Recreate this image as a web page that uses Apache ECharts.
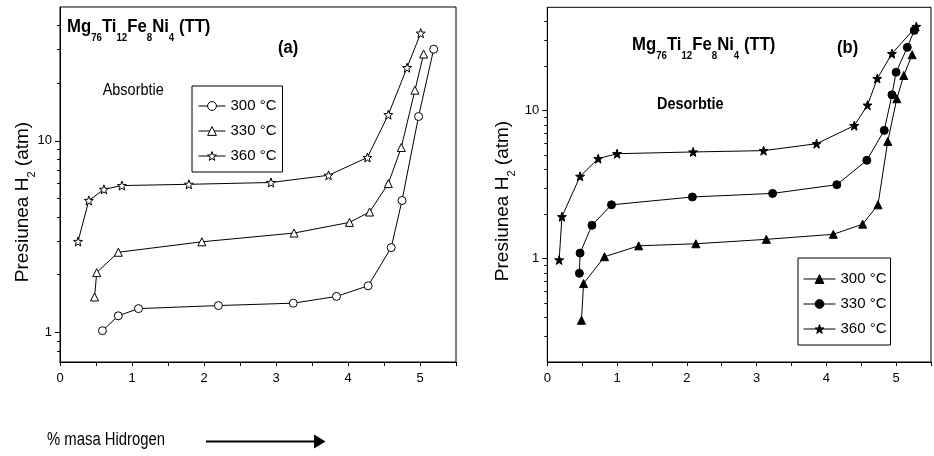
<!DOCTYPE html>
<html>
<head>
<meta charset="utf-8">
<script src="https://cdn.jsdelivr.net/npm/echarts@6/dist/echarts.min.js"></script>
<style>
  html, body { margin: 0; padding: 0; background: #fff; }
  #chart { width: 934px; height: 456px; }
</style>
</head>
<body>
<div id="chart"></div>
<script>
// Hydrogen pressure-composition isotherms of Mg76Ti12Fe8Ni4 (TT)
// (a) absorption, (b) desorption; x = wt.% H, y = H2 pressure (atm, log scale)

// --- Absorbtie (a) ---
const absX300 = [0.59, 0.81, 1.09, 2.20, 3.24, 3.84, 4.28, 4.60, 4.75, 4.98, 5.19];
const absP300 = [1.02, 1.22, 1.33, 1.38, 1.42, 1.54, 1.75, 2.77, 4.88, 13.4, 30.1];

const absX330 = [0.48, 0.51, 0.81, 1.97, 3.25, 4.02, 4.30, 4.56, 4.74, 4.93, 5.05];
const absP330 = [1.53, 2.05, 2.62, 2.97, 3.30, 3.75, 4.25, 5.98, 9.23, 18.4, 28.4];

const absX360 = [0.25, 0.40, 0.61, 0.86, 1.79, 2.93, 3.73, 4.27, 4.56, 4.82, 5.01];
const absP360 = [2.98, 4.88, 5.58, 5.84, 5.93, 6.06, 6.61, 8.19, 13.7, 24.1, 36.5];

// --- Desorbtie (b) ---
const desX300 = [0.49, 0.52, 0.82, 1.31, 2.13, 3.14, 4.10, 4.52, 4.74, 4.88, 5.01, 5.11, 5.23];
const desP300 = [0.383, 0.678, 1.03, 1.22, 1.26, 1.35, 1.46, 1.71, 2.31, 6.2, 12.05, 17.3, 23.9];

const desX330 = [0.46, 0.47, 0.64, 0.92, 2.08, 3.23, 4.15, 4.58, 4.83, 4.94, 5.00, 5.16, 5.26];
const desP330 = [0.796, 1.09, 1.68, 2.31, 2.61, 2.76, 3.16, 4.62, 7.36, 12.8, 18.2, 26.8, 34.9];

const desX360 = [0.17, 0.21, 0.47, 0.73, 1.00, 2.09, 3.10, 3.86, 4.40, 4.59, 4.73, 4.94, 5.29];
const desP360 = [0.98, 1.92, 3.60, 4.74, 5.12, 5.26, 5.37, 5.98, 7.92, 10.9, 16.5, 24.3, 37.1];

// Legend labels
const tempLabels = ['300 °C', '330 °C', '360 °C'];

// Axis ticks
const xTicksLabelled = [0, 1, 2, 3, 4, 5];
const yMajorTicks = [1, 10];
const yMinorTicksA = [0.8, 0.9, 2, 3, 4, 5, 6, 7, 8, 9, 20, 30, 40];
const yMinorTicksB = [0.3, 0.4, 0.5, 0.6, 0.7, 0.8, 0.9, 2, 3, 4, 5, 6, 7, 8, 9, 20, 30, 40];

const FONT = '"Liberation Sans", Arial, sans-serif';
const STAR = 'path://M0,-10L2.35,-3.24L9.51,-3.09L3.8,1.24L5.88,8.09L0,4.3L-5.88,8.09L-3.8,1.24L-9.51,-3.09L-2.35,-3.24Z';

function pairs(xs, ys) { return xs.map((x, i) => [x, ys[i]]); }

function xAxisFor(gridIndex) {
  return {
    gridIndex, type: 'value', min: 0, max: 5.5, interval: 0.5,
    axisLine: { show: true, onZero: false, lineStyle: { color: '#000', width: 1 } },
    axisTick: { show: true, length: 4, lineStyle: { color: '#000' } },
    axisLabel: {
      color: '#000', fontFamily: FONT, fontSize: 13, margin: 10,
      formatter: v => (xTicksLabelled.indexOf(v) >= 0 ? String(v) : '')
    },
    splitLine: { show: false }
  };
}

function yAxesFor(gridIndex, min, minorTicks) {
  return [
    {
      gridIndex, type: 'log', logBase: 10, min, max: 50, position: 'left',
      axisLine: { show: true, lineStyle: { color: '#000', width: 1 } },
      axisTick: { show: true, length: 5, customValues: yMajorTicks, lineStyle: { color: '#000' } },
      axisLabel: { color: '#000', fontFamily: FONT, fontSize: 13, margin: 8, customValues: yMajorTicks },
      splitLine: { show: false }
    },
    {
      gridIndex, type: 'log', logBase: 10, min, max: 50, position: 'left',
      axisLine: { show: false },
      axisTick: { show: true, length: 3, customValues: minorTicks, lineStyle: { color: '#000' } },
      axisLabel: { show: false },
      splitLine: { show: false }
    }
  ];
}

function lineSeries(name, xs, ys, gridIdx, symbol, filled) {
  return {
    name, type: 'line',
    xAxisIndex: gridIdx, yAxisIndex: gridIdx * 2,
    data: pairs(xs, ys),
    symbol, symbolSize: symbol === STAR ? 9 : 8,
    showAllSymbol: true,
    lineStyle: { color: '#000', width: 1 },
    itemStyle: { color: filled ? '#000' : '#fff', borderColor: '#000', borderWidth: 1 },
    emphasis: { disabled: true },
    animation: false
  };
}

const absNames = tempLabels.map(t => t + ' (absorbtie)');
const desNames = tempLabels.map(t => t + ' (desorbtie)');

function legendFor(names, left, top, padding, itemWidth) {
  return {
    data: names, orient: 'vertical', left, top,
    padding, itemGap: 9, itemWidth, itemHeight: 11,
    borderColor: '#000', borderWidth: 1, borderRadius: 0,
    selectedMode: false,
    formatter: n => n.split(' (')[0],
    textStyle: { color: '#000', fontFamily: FONT, fontSize: 15, lineHeight: 16 },
    itemStyle: { borderColor: '#000', borderWidth: 1 },
    lineStyle: { color: '#000', width: 1 }
  };
}

// Formula title with subscripts, as rich text in a condensed setting
function formulaText(x, y) {
  return {
    type: 'text', x, y, scaleX: 0.88,
    style: {
      text: '{m|Mg}{s|76}{m|Ti}{s|12}{m|Fe}{s|8}{m|Ni}{s|4}{m| (TT)}',
      verticalAlign: 'top',
      rich: {
        m: { fontFamily: FONT, fontSize: 19, fontWeight: 'bold', lineHeight: 26, verticalAlign: 'top', fill: '#000' },
        s: { fontFamily: FONT, fontSize: 11, fontWeight: 'bold', lineHeight: 10, verticalAlign: 'bottom', fill: '#000' }
      }
    }
  };
}

function yNameText(x, y) {
  return {
    type: 'text', x, y, rotation: Math.PI / 2,
    style: {
      text: '{m|Presiunea H}{s|2}{m| (atm)}',
      align: 'center', verticalAlign: 'middle',
      rich: {
        m: { fontFamily: FONT, fontSize: 19, lineHeight: 24, verticalAlign: 'top', fill: '#000' },
        s: { fontFamily: FONT, fontSize: 11, lineHeight: 10, verticalAlign: 'bottom', fill: '#000' }
      }
    }
  };
}

function plainText(x, y, text, size, bold, sx) {
  return {
    type: 'text', x, y, scaleX: sx,
    style: { text, fontFamily: FONT, fontSize: size, fontWeight: bold ? 'bold' : 'normal', fill: '#000', verticalAlign: 'middle' }
  };
}

const chart = echarts.init(document.getElementById('chart'), null, { renderer: 'canvas' });

chart.setOption({
  backgroundColor: '#fff',
  animation: false,
  grid: [
    { left: 60, top: 7, width: 396, height: 355, show: true, borderColor: '#000', borderWidth: 1, containLabel: false },
    { left: 547.3, top: 7.3, width: 396.4, height: 354.7, show: true, borderColor: '#000', borderWidth: 1, containLabel: false }
  ],
  xAxis: [xAxisFor(0), xAxisFor(1)],
  yAxis: [...yAxesFor(0, 0.7, yMinorTicksA), ...yAxesFor(1, 0.2, yMinorTicksB)],
  legend: [
    legendFor(absNames, 192, 86, [12, 6, 8, 6], 27),
    legendFor(desNames, 798, 258, [13, 4, 8, 5], 32)
  ],
  series: [
    lineSeries(absNames[0], absX300, absP300, 0, 'circle', false),
    lineSeries(absNames[1], absX330, absP330, 0, 'triangle', false),
    lineSeries(absNames[2], absX360, absP360, 0, STAR, false),
    lineSeries(desNames[0], desX300, desP300, 1, 'triangle', true),
    lineSeries(desNames[1], desX330, desP330, 1, 'circle', true),
    lineSeries(desNames[2], desX360, desP360, 1, STAR, true)
  ],
  graphic: [
    formulaText(67, 17.4),
    formulaText(632, 35.7),
    plainText(278, 48, '(a)', 18, true, 0.92),
    plainText(837, 48, '(b)', 18, true, 0.92),
    plainText(102.7, 90, 'Absorbtie', 17, false, 0.85),
    plainText(657, 104, 'Desorbtie', 17, true, 0.85),
    yNameText(25, 202),
    yNameText(505, 201),
    plainText(47, 440, '% masa Hidrogen', 18, false, 0.825),
    { type: 'line', shape: { x1: 206, y1: 441.5, x2: 316, y2: 441.5 }, style: { stroke: '#000', lineWidth: 2 } },
    { type: 'polygon', shape: { points: [[314, 434.5], [325.5, 441.5], [314, 448.5]] }, style: { fill: '#000' } }
  ]
});
</script>
</body>
</html>
